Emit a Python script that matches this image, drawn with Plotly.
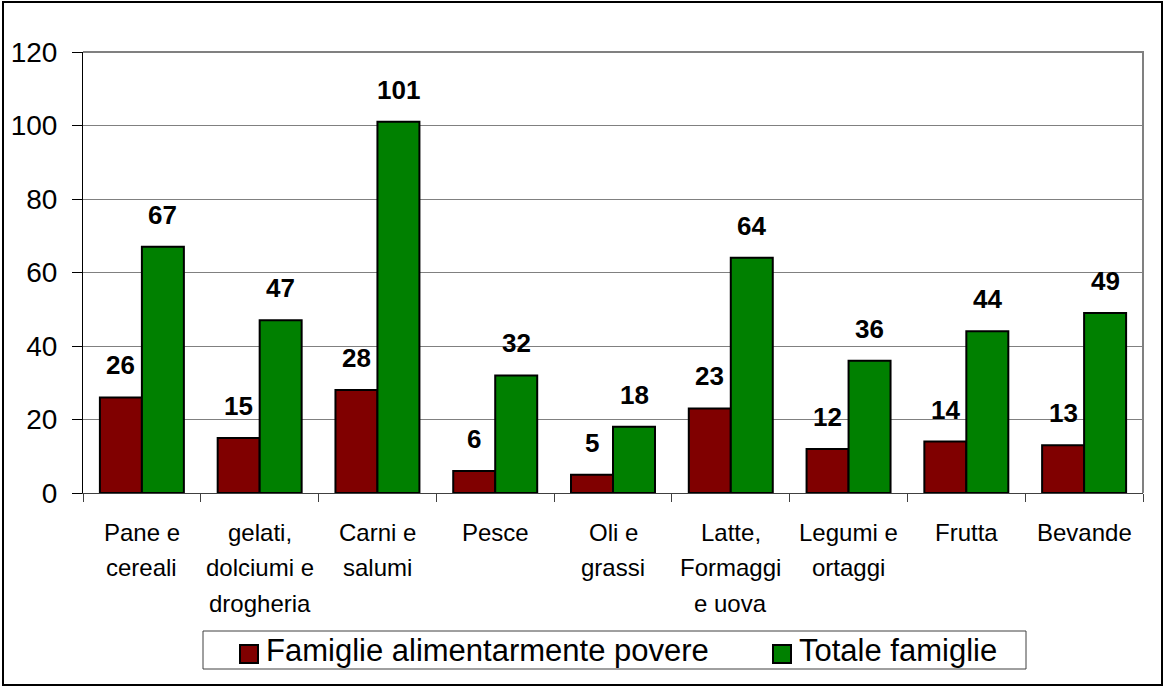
import plotly.graph_objects as go

# Food spending categories (x axis) and their wrapped label lines
categories = [
    "Pane e cereali", "gelati, dolciumi e drogheria", "Carni e salumi", "Pesce",
    "Oli e grassi", "Latte, Formaggi e uova", "Legumi e ortaggi", "Frutta", "Bevande",
]
label_lines = [
    ["Pane e", "cereali"], ["gelati,", "dolciumi e", "drogheria"], ["Carni e", "salumi"],
    ["Pesce"], ["Oli e", "grassi"], ["Latte,", "Formaggi", "e uova"],
    ["Legumi e", "ortaggi"], ["Frutta"], ["Bevande"],
]

# Series values
poor_families = [26, 15, 28, 6, 5, 23, 12, 14, 13]
all_families = [67, 47, 101, 32, 18, 64, 36, 44, 49]
series_names = ["Famiglie alimentarmente povere", "Totale famiglie"]
series_colors = ["#800000", "#008000"]

y_ticks = [0, 20, 40, 60, 80, 100, 120]

W, H = 1165, 687
ML, MR, MT, MB = 83, 22, 52, 194
PW, PH = W - ML - MR, H - MT - MB
FONT = "Arial, Liberation Sans, sans-serif"


def px_x(p):
    return (p - ML) / PW


def px_y(p):
    return (H - MB - p) / PH


fig = go.Figure()
for name, vals, col in zip(series_names, [poor_families, all_families], series_colors):
    fig.add_trace(go.Bar(
        x=categories, y=vals, name=name,
        marker=dict(color=col, line=dict(color="black", width=2)),
        showlegend=False,
    ))

annotations = []
# Value labels above each bar
for vals, shift in [(poor_families, -21), (all_families, 21)]:
    for cat, v in zip(categories, vals):
        annotations.append(dict(
            x=cat, y=v, xref="x", yref="y", text=f"<b>{v}</b>", showarrow=False,
            xshift=shift, yshift=32, xanchor="center", yanchor="middle",
            font=dict(family=FONT, size=26, color="black"),
        ))

# Category labels, one annotation per line
for cat, lines in zip(categories, label_lines):
    for i, ln in enumerate(lines):
        annotations.append(dict(
            x=cat, y=0, xref="x", yref="paper", text=ln, showarrow=False,
            yshift=-(39 + 35.5 * i), xanchor="center", yanchor="middle",
            font=dict(family=FONT, size=24, color="black"),
        ))

# Legend entries
legend_items = [(series_names[0], series_colors[0], 240), (series_names[1], series_colors[1], 773)]
shapes = []
for name, col, x0 in legend_items:
    shapes.append(dict(
        type="rect", xref="paper", yref="paper",
        x0=px_x(x0), x1=px_x(x0 + 18), y0=px_y(663), y1=px_y(645),
        fillcolor=col, line=dict(color="black", width=2),
    ))
    annotations.append(dict(
        x=px_x(x0 + 24), y=px_y(650), xref="paper", yref="paper", text=name,
        showarrow=False, xanchor="left", yanchor="middle",
        font=dict(family=FONT, size=31, color="black"),
    ))

# Legend frame
shapes.append(dict(
    type="rect", xref="paper", yref="paper",
    x0=px_x(203), x1=px_x(1026), y0=px_y(669), y1=px_y(631),
    line=dict(color="#404040", width=1), fillcolor="rgba(0,0,0,0)",
))
# Plot area top and right edges
shapes.append(dict(
    type="path", xref="paper", yref="paper",
    path="M 0 1 L 1 1 L 1 0", line=dict(color="#808080", width=2),
))
# Outer chart frame
shapes.append(dict(
    type="rect", xref="paper", yref="paper",
    x0=px_x(3), x1=px_x(1162), y0=px_y(685), y1=px_y(2),
    line=dict(color="black", width=2), fillcolor="rgba(0,0,0,0)",
))

fig.update_layout(
    width=W, height=H,
    margin=dict(l=ML, r=MR, t=MT, b=MB, pad=0),
    paper_bgcolor="white", plot_bgcolor="white",
    barmode="group", bargap=0.287, bargroupgap=0,
    font=dict(family=FONT, color="black"),
    annotations=annotations, shapes=shapes,
    xaxis=dict(
        type="category", showticklabels=False, tickson="boundaries",
        ticks="outside", ticklen=8, tickcolor="#404040", tickwidth=1,
        showline=True, linecolor="#404040", linewidth=1, showgrid=False,
        range=[-0.5, len(categories) - 0.5],
    ),
    yaxis=dict(
        range=[0, 120], tickvals=y_ticks, ticktext=[str(t) for t in y_ticks],
        ticks="outside", ticklen=10, tickcolor="black", tickwidth=1,
        showline=True, linecolor="black", linewidth=1,
        showgrid=True, gridcolor="#808080", gridwidth=1, zeroline=False,
        tickfont=dict(family=FONT, size=28, color="black"),
        ticklabelstandoff=9,
    ),
)

fig.write_html("out.html")
